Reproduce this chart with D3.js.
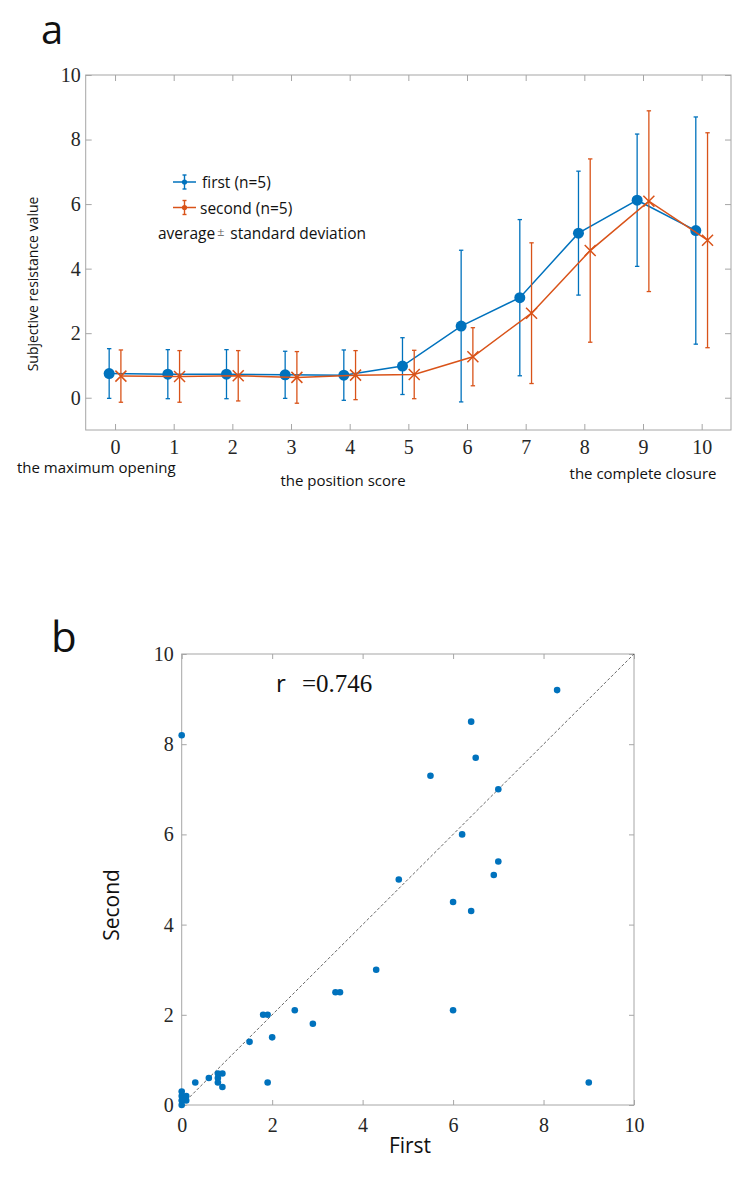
<!DOCTYPE html>
<html>
<head>
<meta charset="utf-8">
<script src="https://cdn.jsdelivr.net/npm/d3@7"></script>
<style>
  body { margin: 0; background: #fff; }
  svg { display: block; }
  .tick text { font-family: "Liberation Serif", "Times New Roman", serif; font-size: 20px; fill: #262626; }
  .tick line { stroke: #a6a6a6; }
  .sans { font-family: "Open Sans", "Noto Sans", sans-serif; fill: #111; }
</style>
</head>
<body>
<figure id="chart" style="margin:0"></figure>
<script>
// panel a: position score vs mean +/- sd
const positions = [0, 1, 2, 3, 4, 5, 6, 7, 8, 9, 10];
const firstMean = [0.75, 0.73, 0.73, 0.71, 0.70, 0.98, 2.22, 3.10, 5.10, 6.12, 5.18];
const firstSD = [0.77, 0.76, 0.76, 0.73, 0.78, 0.88, 2.35, 2.42, 1.92, 2.05, 3.52];
const secondMean = [0.67, 0.66, 0.68, 0.63, 0.70, 0.72, 1.27, 2.62, 4.56, 6.09, 4.88];
const secondSD = [0.81, 0.80, 0.78, 0.80, 0.76, 0.75, 0.90, 2.18, 2.84, 2.80, 3.33];
const seriesNames = ["first (n=5)", "second (n=5)"];
const yTicksA = [0, 2, 4, 6, 8, 10];

// panel b: first vs second score per case
const firstScores = [0, 8.3, 6.4, 6.5, 5.5, 7.0, 6.2, 7.0, 6.9, 4.8, 6.0, 6.4, 4.3, 3.4, 3.5, 2.5, 6.0, 1.8, 1.9,
  2.9, 2.0, 1.5, 0.8, 0.9, 0.8, 0.6, 0.3, 0.8, 1.9, 9.0, 0.9, 0, 0, 0.1, 0.1, 0, 0];
const secondScores = [8.2, 9.2, 8.5, 7.7, 7.3, 7.0, 6.0, 5.4, 5.1, 5.0, 4.5, 4.3, 3.0, 2.5, 2.5, 2.1, 2.1, 2.0, 2.0,
  1.8, 1.5, 1.4, 0.7, 0.7, 0.6, 0.6, 0.5, 0.5, 0.5, 0.5, 0.4, 0.3, 0.2, 0.2, 0.1, 0.1, 0];
const corrLabel = "=0.746";
const ticksB = [0, 2, 4, 6, 8, 10];

const blue = "#0072BD";
const orange = "#D95319";
const frameColor = "#a6a6a6";

const svg = d3.select("figure#chart")
  .append("svg")
  .attr("width", 750)
  .attr("height", 1192);

// ---------- panel a ----------
const xA = d3.scaleLinear().domain([-0.5, 10.5]).range([85.7, 731]);
const yA = d3.scaleLinear().domain([-1, 10]).range([430, 75]);

const gA = svg.append("g");

gA.append("g")
  .attr("transform", "translate(0,430)")
  .call(d3.axisBottom(xA).tickValues(positions).tickSize(-6).tickPadding(10));
gA.append("g")
  .attr("transform", "translate(0,75)")
  .call(d3.axisTop(xA).tickValues(positions).tickSize(-6).tickFormat(""));
gA.append("g")
  .attr("transform", "translate(85.7,0)")
  .call(d3.axisLeft(yA).tickValues(yTicksA).tickSize(-6).tickPadding(5));
gA.append("g")
  .attr("transform", "translate(731,0)")
  .call(d3.axisRight(yA).tickValues(yTicksA).tickSize(-6).tickFormat(""));
gA.selectAll(".domain").remove();

gA.append("rect")
  .attr("x", xA(-0.5)).attr("y", yA(10))
  .attr("width", xA(10.5) - xA(-0.5)).attr("height", yA(-1) - yA(10))
  .attr("fill", "none").attr("stroke", frameColor);

function drawSeries(means, sds, offset, color, marker) {
  const pts = positions.map((p, i) => ({ x: p + offset, m: means[i], s: sds[i] }));
  const g = gA.append("g");
  // error bars
  pts.forEach(d => {
    const cx = xA(d.x);
    g.append("line").attr("x1", cx).attr("x2", cx)
      .attr("y1", yA(d.m - d.s)).attr("y2", yA(d.m + d.s))
      .attr("stroke", color).attr("stroke-width", 1.3);
    [d.m - d.s, d.m + d.s].forEach(v => {
      g.append("line").attr("x1", cx - 2.2).attr("x2", cx + 2.2)
        .attr("y1", yA(v)).attr("y2", yA(v))
        .attr("stroke", color).attr("stroke-width", 1.3);
    });
  });
  g.append("path")
    .datum(pts)
    .attr("fill", "none")
    .attr("stroke", color)
    .attr("stroke-width", 1.5)
    .attr("d", d3.line().x(d => xA(d.x)).y(d => yA(d.m)));
  if (marker == "circle") {
    g.selectAll("circle").data(pts).enter().append("circle")
      .attr("cx", d => xA(d.x)).attr("cy", d => yA(d.m))
      .attr("r", 5.5).attr("fill", color);
  } else {
    g.selectAll("path.cross").data(pts).enter().append("path")
      .attr("class", "cross")
      .attr("d", d => {
        const cx = xA(d.x), cy = yA(d.m), r = 5.5;
        return `M${cx - r},${cy - r}L${cx + r},${cy + r}M${cx - r},${cy + r}L${cx + r},${cy - r}`;
      })
      .attr("stroke", color).attr("stroke-width", 1.5);
  }
}

drawSeries(firstMean, firstSD, -0.1, blue, "circle");
drawSeries(secondMean, secondSD, 0.1, orange, "cross");

// legend
const legend = gA.append("g");
[blue, orange].forEach((c, i) => {
  const ly = 182 + i * 25.5;
  legend.append("line").attr("x1", 173).attr("x2", 196).attr("y1", ly).attr("y2", ly)
    .attr("stroke", c).attr("stroke-width", 1.5);
  legend.append("line").attr("x1", 184.5).attr("x2", 184.5).attr("y1", ly - 7).attr("y2", ly + 7)
    .attr("stroke", c).attr("stroke-width", 1.4);
  [ly - 7, ly + 7].forEach(v => legend.append("line").attr("x1", 182.5).attr("x2", 186.5)
    .attr("y1", v).attr("y2", v).attr("stroke", c).attr("stroke-width", 1.4));
  legend.append("circle").attr("cx", 184.5).attr("cy", ly).attr("r", 2.6).attr("fill", c);
  legend.append("text").attr("class", "sans")
    .attr("x", i == 0 ? 202 : 200).attr("y", ly + 6)
    .style("font-size", "15.5px")
    .text(seriesNames[i]);
});
const avg = legend.append("text").attr("class", "sans")
  .attr("x", 158).attr("y", 239).style("font-size", "15.5px");
avg.append("tspan").text("average");
avg.append("tspan").attr("dx", 2).attr("dy", -3)
  .style("font-family", "Liberation Serif, serif").style("font-size", "13px").style("fill", "#555").text("±");
avg.append("tspan").attr("dx", 6).attr("dy", 3).text("standard deviation");

// axis texts
gA.append("text").attr("class", "sans")
  .attr("transform", "translate(38,284) rotate(-90)")
  .attr("text-anchor", "middle").style("font-size", "14px")
  .text("Subjective resistance value");
gA.append("text").attr("class", "sans").attr("x", 17).attr("y", 473)
  .style("font-size", "15px").text("the maximum opening");
gA.append("text").attr("class", "sans").attr("x", 343).attr("y", 486)
  .attr("text-anchor", "middle").style("font-size", "15px").text("the position score");
gA.append("text").attr("class", "sans").attr("x", 643).attr("y", 479)
  .attr("text-anchor", "middle").style("font-size", "15px").text("the complete closure");

svg.append("text").attr("class", "sans").attr("x", 41).attr("y", 44)
  .style("font-size", "40px").text("a");

// ---------- panel b ----------
const xB = d3.scaleLinear().domain([0, 10]).range([181.7, 634]);
const yB = d3.scaleLinear().domain([0, 10]).range([1105, 654]);

const gB = svg.append("g");
gB.append("g")
  .attr("transform", "translate(0,1105)")
  .call(d3.axisBottom(xB).tickValues(ticksB).tickSize(-5).tickPadding(13));
gB.append("g")
  .attr("transform", "translate(0,654)")
  .call(d3.axisTop(xB).tickValues(ticksB).tickSize(-5).tickFormat(""));
gB.append("g")
  .attr("transform", "translate(181.7,0)")
  .call(d3.axisLeft(yB).tickValues(ticksB).tickSize(-5).tickPadding(8));
gB.append("g")
  .attr("transform", "translate(634,0)")
  .call(d3.axisRight(yB).tickValues(ticksB).tickSize(-5).tickFormat(""));
gB.selectAll(".domain").remove();

gB.append("rect")
  .attr("x", xB(0)).attr("y", yB(10))
  .attr("width", xB(10) - xB(0)).attr("height", yB(0) - yB(10))
  .attr("fill", "none").attr("stroke", frameColor);

// identity line
gB.append("line")
  .attr("x1", xB(0.1)).attr("y1", yB(0.1))
  .attr("x2", xB(10)).attr("y2", yB(10))
  .attr("stroke", "#555").attr("stroke-width", 0.9)
  .attr("stroke-dasharray", "3,2");

const scatter = firstScores.map((f, i) => ({ f: f, s: secondScores[i] }));
gB.append("g").selectAll("circle")
  .data(scatter)
  .enter()
  .append("circle")
  .attr("cx", d => xB(d.f))
  .attr("cy", d => yB(d.s))
  .attr("r", 3.3)
  .attr("fill", blue);

gB.append("text").attr("class", "sans").attr("x", 276).attr("y", 692)
  .style("font-size", "24px").text("r");
gB.append("text").attr("x", 302).attr("y", 692)
  .style("font-family", "Liberation Serif, serif").style("font-size", "25px").style("fill", "#111")
  .text(corrLabel);

gB.append("text").attr("class", "sans").attr("x", 410).attr("y", 1153)
  .attr("text-anchor", "middle").style("font-size", "21px").text("First");
gB.append("text").attr("class", "sans")
  .attr("transform", "translate(119,905) rotate(-90)")
  .attr("text-anchor", "middle").style("font-size", "21px").text("Second");

svg.append("text").attr("class", "sans").attr("x", 51).attr("y", 652)
  .style("font-size", "42px").text("b");
</script>
</body>
</html>
